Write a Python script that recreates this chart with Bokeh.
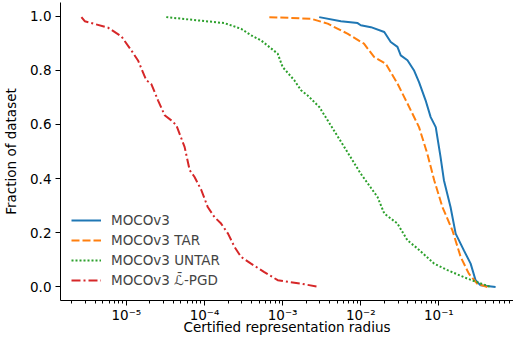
from bokeh.plotting import figure
from bokeh.models import (Range1d, FixedTicker, PrintfTickFormatter, CustomJSTickFormatter,
                          Legend, LegendItem)
from bokeh.embed import file_html
from bokeh.resources import INLINE

# ---- data ----
moco_r = [2.94e-3, 5.57e-3, 9.12e-3, 1.0e-2, 1.35e-2, 2.0e-2, 2.42e-2, 2.95e-2, 3.25e-2, 3.96e-2,
          4.79e-2, 5.57e-2, 6.76e-2, 7.85e-2, 9.12e-2, 0.105, 0.116, 0.141, 0.164, 0.209,
          0.255, 0.295, 0.342, 0.532]
moco_f = [0.996, 0.981, 0.974, 0.966, 0.959, 0.941, 0.904, 0.886, 0.855, 0.837,
          0.800, 0.756, 0.689, 0.627, 0.590, 0.480, 0.394, 0.295, 0.197, 0.135,
          0.086, 0.025, 0.006, 0.0]

tar_r = [6.76e-4, 2.31e-3, 3.77e-3, 6.76e-3, 1.10e-2, 1.48e-2, 2.09e-2, 2.95e-2, 3.96e-2, 5.57e-2,
         7.11e-2, 8.71e-2, 0.111, 0.149, 0.190, 0.242, 0.309, 0.417]
tar_f = [0.996, 0.990, 0.972, 0.935, 0.898, 0.849, 0.824, 0.751, 0.677, 0.590,
         0.492, 0.394, 0.295, 0.209, 0.111, 0.049, 0.012, 0.0]

untar_r = [3.24e-5, 1.80e-4, 2.94e-4, 3.94e-4, 5.30e-4, 8.65e-4, 1.0e-3, 1.41e-3, 1.72e-3, 2.09e-3,
           2.95e-3, 3.77e-3, 6.14e-3, 1.0e-2, 1.64e-2, 2.0e-2, 2.95e-2, 3.96e-2, 5.32e-2, 8.71e-2,
           0.129, 0.231, 0.459]
untar_f = [0.996, 0.974, 0.953, 0.929, 0.910, 0.861, 0.812, 0.763, 0.726, 0.707,
           0.664, 0.615, 0.517, 0.418, 0.332, 0.271, 0.234, 0.172, 0.142, 0.086,
           0.062, 0.031, 0.0]

pgd_r = [2.66e-6, 2.93e-6, 5.83e-6, 8.63e-6, 1.16e-5, 1.41e-5, 1.80e-5, 2.08e-5, 2.54e-5, 3.09e-5,
         3.76e-5, 4.36e-5, 4.79e-5, 5.56e-5, 6.46e-5, 7.46e-5, 9.12e-5, 1.10e-4, 1.34e-4, 1.63e-4,
         2.0e-4, 2.42e-4, 2.94e-4, 3.94e-4, 5.83e-4, 8.65e-4, 1.72e-3, 2.95e-3]
pgd_f = [0.996, 0.981, 0.957, 0.925, 0.873, 0.836, 0.763, 0.750, 0.689, 0.634,
         0.615, 0.597, 0.566, 0.517, 0.431, 0.406, 0.357, 0.295, 0.258, 0.234,
         0.197, 0.148, 0.111, 0.086, 0.055, 0.025, 0.012, 0.0]

labels = ["MOCOv3", "MOCOv3 TAR", "MOCOv3 UNTAR", "MOCOv3 \u2112\u0304-PGD"]
x_ticks = [1e-5, 1e-4, 1e-3, 1e-2, 1e-1]
y_ticks = [0.0, 0.2, 0.4, 0.6, 0.8, 1.0]

FONT = "DejaVu Sans"
FS = "13.5px"

p = figure(width=513, height=343, x_axis_type="log", output_backend="svg",
           toolbar_location=None,
           x_range=Range1d(1.435e-6, 0.902), y_range=Range1d(-0.05, 1.05),
           min_border_left=59, min_border_bottom=43, min_border_top=2, min_border_right=0)
p.outline_line_color = None
p.grid.grid_line_color = None
p.background_fill_color = "white"
p.border_fill_color = "white"

r1 = p.line(moco_r, moco_f, line_color="#1f77b4", line_width=2)
r2 = p.line(tar_r, tar_f, line_color="#ff7f0e", line_width=2, line_dash="8 3")
r3 = p.line(untar_r, untar_f, line_color="#2ca02c", line_width=2, line_dash="2 2")
r4 = p.line(pgd_r, pgd_f, line_color="#d62728", line_width=2, line_dash="9 3 2 3")

legend = Legend(items=[LegendItem(label=labels[0], renderers=[r1]),
                       LegendItem(label=labels[1], renderers=[r2]),
                       LegendItem(label=labels[2], renderers=[r3]),
                       LegendItem(label=labels[3], renderers=[r4])],
                location=(11, 10), padding=0, margin=0, spacing=0,
                glyph_width=30, glyph_height=20, label_height=20, label_standoff=10,
                label_text_font=FONT, label_text_font_size=FS,
                border_line_alpha=0, background_fill_alpha=0)
p.add_layout(legend, "center")

sup_js = """
const sup = {'-':'\u207b','0':'\u2070','1':'\u00b9','2':'\u00b2','3':'\u00b3','4':'\u2074',
             '5':'\u2075','6':'\u2076','7':'\u2077','8':'\u2078','9':'\u2079'};
const e = Math.round(Math.log10(tick));
return '10' + String(e).split('').map(c => sup[c]).join('');
"""

minor = [m * 10.0 ** k for k in range(-6, 1) for m in range(2, 10)]
xa = p.xaxis[0]
xa.ticker = FixedTicker(ticks=x_ticks, minor_ticks=minor)
xa.formatter = CustomJSTickFormatter(code=sup_js)
xa.axis_label = "Certified representation radius"

ya = p.yaxis[0]
ya.ticker = FixedTicker(ticks=y_ticks, minor_ticks=[])
ya.formatter = PrintfTickFormatter(format="%.1f")
ya.axis_label = "Fraction of dataset"

for ax in (xa, ya):
    ax.axis_line_color = "black"
    ax.axis_line_width = 1
    ax.major_tick_line_color = "black"
    ax.major_tick_in = 0
    ax.major_tick_out = 5
    ax.minor_tick_line_color = "black"
    ax.minor_tick_in = 0
    ax.minor_tick_out = 3
    ax.major_label_text_font = FONT
    ax.major_label_text_font_size = FS
    ax.major_label_text_color = "black"
    ax.axis_label_text_font = FONT
    ax.axis_label_text_font_size = FS
    ax.axis_label_text_font_style = "normal"
    ax.axis_label_text_color = "black"

xa.major_label_standoff = 1
xa.axis_label_standoff = -7
ya.major_label_standoff = 4
ya.axis_label_standoff = 8

open("out.html", "w").write(file_html(p, INLINE))
